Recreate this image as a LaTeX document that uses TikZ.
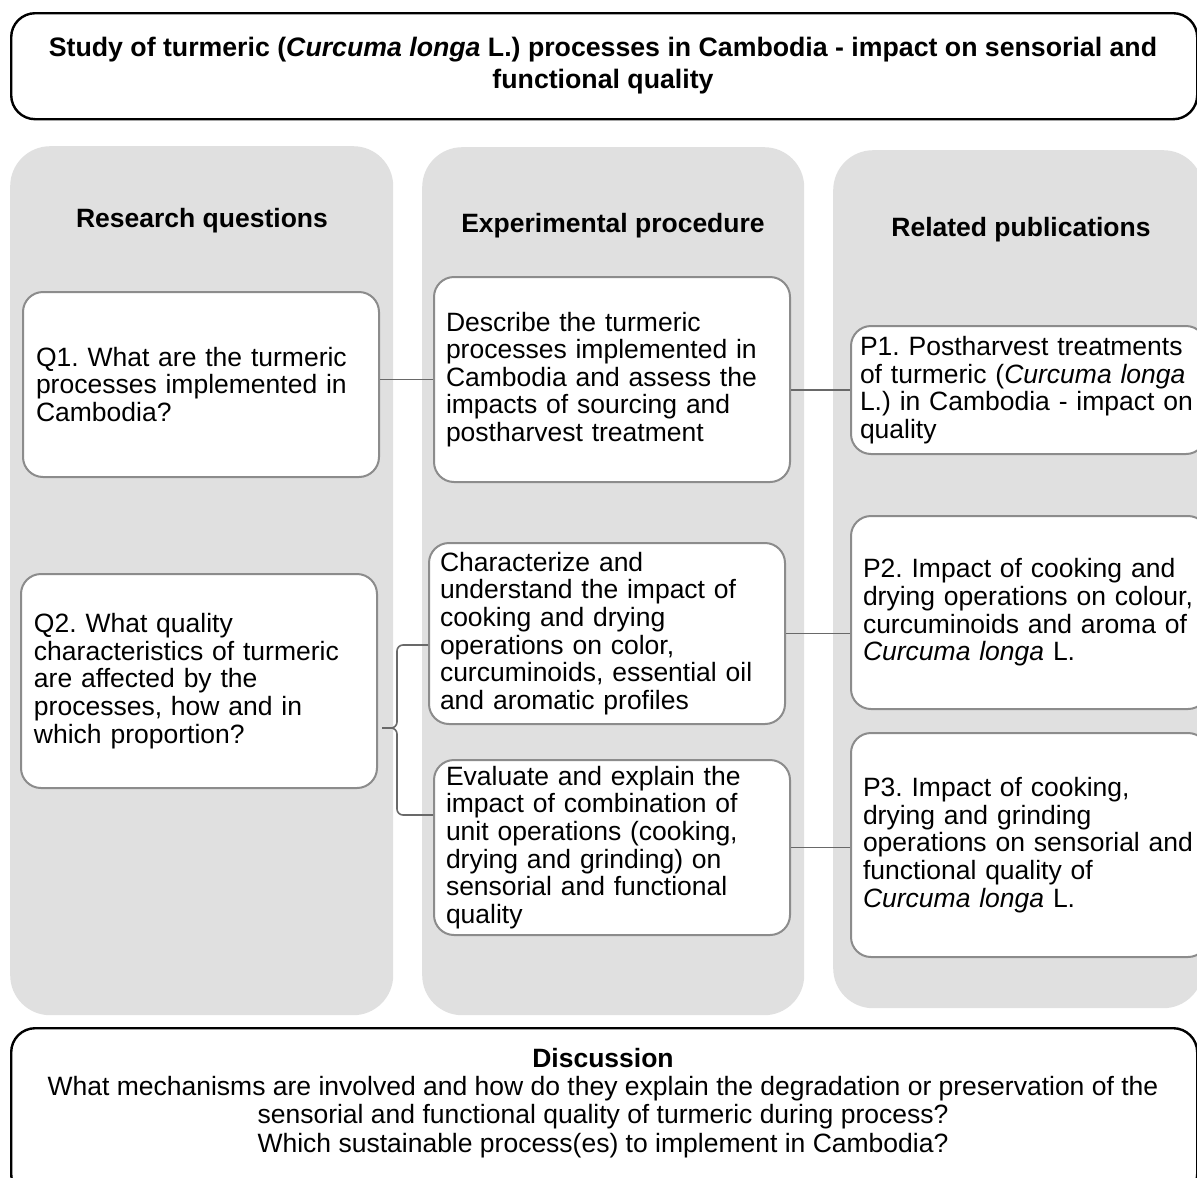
\documentclass[tikz,border=0pt]{standalone}
\usepackage{fontspec}
\setmainfont{Liberation Sans}
\definecolor{colgray}{RGB}{224,224,224}
\definecolor{boxgray}{RGB}{140,140,140}
\definecolor{linegray}{RGB}{105,105,105}
\newcommand{\bodyfs}{\fontsize{26.5}{27.6}\selectfont\frenchspacing}
\newcommand{\headfs}{\fontsize{26.5}{30}\selectfont\bfseries}
\newcommand{\titlefs}{\fontsize{26.7}{32}\selectfont\bfseries\frenchspacing}
\tikzset{
  colbox/.style={fill=colgray, draw=none, rounded corners=40pt, anchor=north west, inner sep=0pt},
  headtxt/.style={font=\headfs, inner sep=0pt, anchor=center},
  ibox/.style={draw=boxgray, line width=2pt, fill=white, rounded corners=20pt,
    align=left, anchor=north west, font=\bodyfs, inner ysep=0pt},
  frame/.style={draw=black, line width=2.4pt, fill=white, rounded corners=24pt, anchor=north west, inner sep=0pt},
  conn/.style={draw=linegray, line width=1.6pt},
}
\begin{document}
\frenchspacing
\begin{tikzpicture}[x=1pt,y=-1pt]
\useasboundingbox (0,0) rectangle (1197,1178);
\fill[white] (0,0) rectangle (1197,1178);

% title frame
\node[frame, minimum width=1186pt, minimum height=106pt] (top) at (10,12) {};
\node[font=\titlefs, align=center, inner sep=0pt] (title) at (603,66)
  {Study of turmeric (\textit{Curcuma longa} L.) processes in Cambodia - impact on sensorial and\\functional quality};

% columns
\node[colbox, minimum width=383pt, minimum height=869pt] (c1) at (10,146) {};
\node[colbox, minimum width=382pt, minimum height=868pt] (c2) at (422,147) {};
\node[colbox, minimum width=370pt, minimum height=858pt] (c3) at (833,150) {};

\node[headtxt] (h1) at (202,221) {Research questions};
\node[headtxt] (h2) at (613,226) {Experimental procedure};
\node[headtxt] (h3) at (1021,230) {Related publications};

% research questions
\node[ibox, inner xsep=13pt, text width=330pt, minimum height=185pt] (q1) at (22,291)
  {Q1. What are the turmeric\\processes implemented in\\Cambodia?};
\node[ibox, inner xsep=13pt, text width=330pt, minimum height=214pt] (q2) at (20,573)
  {Q2. What quality\\characteristics of turmeric\\are affected by the\\processes, how and in\\which proportion?};

% experimental procedure
\node[ibox, inner xsep=12pt, text width=332pt, minimum height=205pt] (e1) at (433,276)
  {Describe the turmeric\\processes implemented in\\Cambodia and assess the\\impacts of sourcing and\\postharvest treatment};
\node[ibox, inner xsep=11pt, text width=334pt, minimum height=181pt] (e2) at (428,542)
  {Characterize and\\understand the impact of\\cooking and drying\\operations on color,\\curcuminoids, essential oil\\and aromatic profiles};
\node[ibox, inner xsep=12pt, text width=332pt, minimum height=175pt] (e3) at (433,759)
  {Evaluate and explain the\\impact of combination of\\unit operations (cooking,\\drying and grinding) on\\sensorial and functional\\quality};

% related publications
\node[ibox, inner xsep=9pt, text width=337pt, minimum height=128pt] (p1) at (850,325)
  {P1. Postharvest treatments\\of turmeric (\textit{Curcuma longa}\\L.) in Cambodia - impact on\\quality};
\node[ibox, inner xsep=12pt, text width=333pt, minimum height=193pt] (p2) at (850,515)
  {P2. Impact of cooking and\\drying operations on colour,\\curcuminoids and aroma of\\\textit{Curcuma longa} L.};
\node[ibox, inner xsep=12pt, text width=333pt, minimum height=224pt] (p3) at (850,732)
  {P3. Impact of cooking,\\drying and grinding\\operations on sensorial and\\functional quality of\\\textit{Curcuma longa} L.};

% connectors
\draw[conn] (q1.east |- e1.west) -- (e1.west);
\draw[conn] (e1.east |- p1.west) -- (p1.west);
\draw[conn] (e2.east) -- (e2.east -| p2.west);
\draw[conn] (e3.east) -- (e3.east -| p3.west);

% brace
\coordinate (bt) at (e2.west |- 0,645);
\coordinate (bb) at (e3.west |- 0,815);
\coordinate (tip) at (382,728);
\draw[conn, rounded corners=6pt] (bt) -- (397,645) -- (397,728) -- (tip);
\draw[conn, rounded corners=6pt] (bb) -- (397,815) -- (397,728) -- (tip);

% discussion frame
\node[frame, minimum width=1186pt, minimum height=170pt] (bot) at (10,1027) {};
\node[font=\fontsize{26.5}{28.2}\selectfont\frenchspacing, align=center, inner sep=0pt] (disc) at (603,1103)
  {\textbf{Discussion}\\What mechanisms are involved and how do they explain the degradation or preservation of the\\sensorial and functional quality of turmeric during process?\\Which sustainable process(es) to implement in Cambodia?};
\end{tikzpicture}
\end{document}
